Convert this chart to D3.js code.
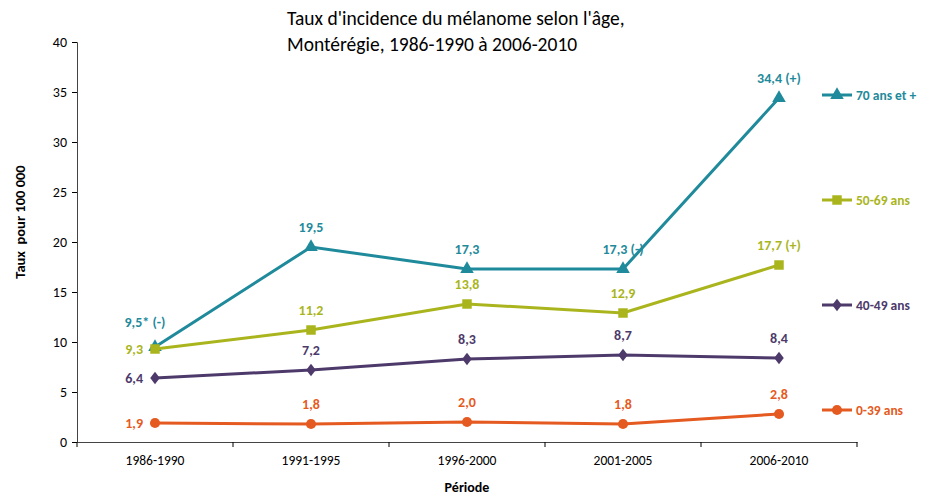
<!DOCTYPE html>
<html>
<head>
<meta charset="utf-8">
<script src="https://cdn.jsdelivr.net/npm/d3@7"></script>
<style>
  body { margin: 0; background: #fff; }
  text { font-family: Carlito, Lato, "Open Sans", sans-serif; }
</style>
</head>
<body>
<div id="chart"></div>
<script>
const periods = ['1986-1990', '1991-1995', '1996-2000', '2001-2005', '2006-2010'];
const ages70 = [9.5, 19.5, 17.3, 17.3, 34.4];
const ages50 = [9.3, 11.2, 13.8, 12.9, 17.7];
const ages40 = [6.4, 7.2, 8.3, 8.7, 8.4];
const ages0 = [1.9, 1.8, 2.0, 1.8, 2.8];
const labels70 = ['9,5* (-)', '19,5', '17,3', '17,3 (-)', '34,4 (+)'];
const labels50 = ['9,3', '11,2', '13,8', '12,9', '17,7 (+)'];
const labels40 = ['6,4', '7,2', '8,3', '8,7', '8,4'];
const labels0 = ['1,9', '1,8', '2,0', '1,8', '2,8'];
const yTicks = [0, 5, 10, 15, 20, 25, 30, 35, 40];

const series = [
  {name: '70 ans et +', values: ages70, labels: labels70, color: '#1f8a9b', symbol: d3.symbolTriangle, size: 80, legendY: 95},
  {name: '50-69 ans', values: ages50, labels: labels50, color: '#aab51d', symbol: d3.symbolSquare, size: 90, legendY: 200},
  {name: '40-49 ans', values: ages40, labels: labels40, color: '#4d3a6b', symbol: d3.symbolDiamond, size: 60, legendY: 305},
  {name: '0-39 ans', values: ages0, labels: labels0, color: '#e55a21', symbol: d3.symbolCircle, size: 80, legendY: 410}
];

const width = 926;
const height = 495;
const margin = {top: 42, left: 77, right: 69, bottom: 53};

const svg = d3.select('#chart').append('svg')
  .attr('width', width).attr('height', height);

const x = d3.scaleBand().domain(periods)
  .range([margin.left, width - margin.right]);
const y = d3.scaleLinear().domain([0, 40])
  .range([height - margin.bottom, margin.top]);

// title
svg.append('text')
  .attr('x', 287).attr('y', 25)
  .attr('font-size', 19.5).attr('fill', '#000')
  .text("Taux d'incidence du mélanome selon l'âge,");
svg.append('text')
  .attr('x', 287).attr('y', 51)
  .attr('font-size', 19.5).attr('fill', '#000')
  .text('Montérégie, 1986-1990 à 2006-2010');

// axes
const yAxis = svg.append('g')
  .attr('transform', `translate(${margin.left},0)`)
  .call(d3.axisLeft(y).tickValues(yTicks).tickSize(5).tickPadding(5));
yAxis.selectAll('text').attr('font-size', 14).attr('fill', '#000');

const xAxis = svg.append('g')
  .attr('transform', `translate(0,${height - margin.bottom})`)
  .call(d3.axisBottom(x).tickSize(0).tickPadding(13));
xAxis.selectAll('text').attr('font-size', 13.5).attr('fill', '#000');
// boundary ticks between categories
xAxis.selectAll('.bound').data(d3.range(periods.length + 1))
  .enter().append('line')
  .attr('class', 'bound')
  .attr('x1', i => margin.left + i * x.step())
  .attr('x2', i => margin.left + i * x.step())
  .attr('y1', 0).attr('y2', 5)
  .attr('stroke', '#000');
svg.selectAll('.domain').attr('stroke', '#444');

svg.append('text')
  .attr('transform', 'translate(25,222) rotate(-90)')
  .attr('text-anchor', 'middle')
  .attr('font-size', 14.5).attr('font-weight', 'bold')
  .attr('xml:space', 'preserve')
  .text('Taux  pour 100 000');

svg.append('text')
  .attr('x', x('1996-2000') + x.bandwidth() / 2).attr('y', 492)
  .attr('text-anchor', 'middle')
  .attr('font-size', 14).attr('font-weight', 'bold')
  .text('Période');

const cx = i => x(periods[i]) + x.bandwidth() / 2;
const line = d3.line().x((d, i) => cx(i)).y(d => y(d));

series.forEach(s => {
  const first = s.name === '70 ans et +';
  const g = svg.append('g');
  g.append('path')
    .attr('d', line(s.values))
    .attr('fill', 'none')
    .attr('stroke', s.color)
    .attr('stroke-width', 3);
  g.selectAll('.mark').data(s.values).enter().append('path')
    .attr('class', 'mark')
    .attr('transform', (d, i) => `translate(${cx(i)},${y(d)})` + (s.symbol === d3.symbolDiamond ? ' scale(1.15,0.85)' : ''))
    .attr('d', d3.symbol().type(s.symbol).size(s.size))
    .attr('fill', s.color);

  g.selectAll('.lbl').data(s.values).enter().append('text')
    .attr('class', 'lbl')
    .attr('x', (d, i) => {
      if (i === 0) return first ? cx(i) - 10 : cx(i) - 12;
      return cx(i);
    })
    .attr('y', (d, i) => {
      if (i === 0 && !first) return y(d) + 5;
      if (i === 0) return y(d) - 20;
      return y(d) - 15;
    })
    .attr('text-anchor', (d, i) => (i === 0 && !first) ? 'end' : 'middle')
    .attr('font-size', 14).attr('font-weight', 'bold')
    .attr('fill', s.color)
    .text((d, i) => s.labels[i]);

  // legend
  const lg = svg.append('g').attr('transform', `translate(822,${s.legendY})`);
  lg.append('line').attr('x1', 0).attr('x2', 30)
    .attr('stroke', s.color).attr('stroke-width', 3);
  lg.append('path').attr('transform', 'translate(15,0)' + (s.symbol === d3.symbolDiamond ? ' scale(1.15,0.85)' : ''))
    .attr('d', d3.symbol().type(s.symbol).size(s.size))
    .attr('fill', s.color);
  lg.append('text').attr('x', 34).attr('y', 4.5)
    .attr('font-size', 13.5).attr('font-weight', 'bold')
    .attr('fill', s.color)
    .text(s.name);
});
</script>
</body>
</html>
